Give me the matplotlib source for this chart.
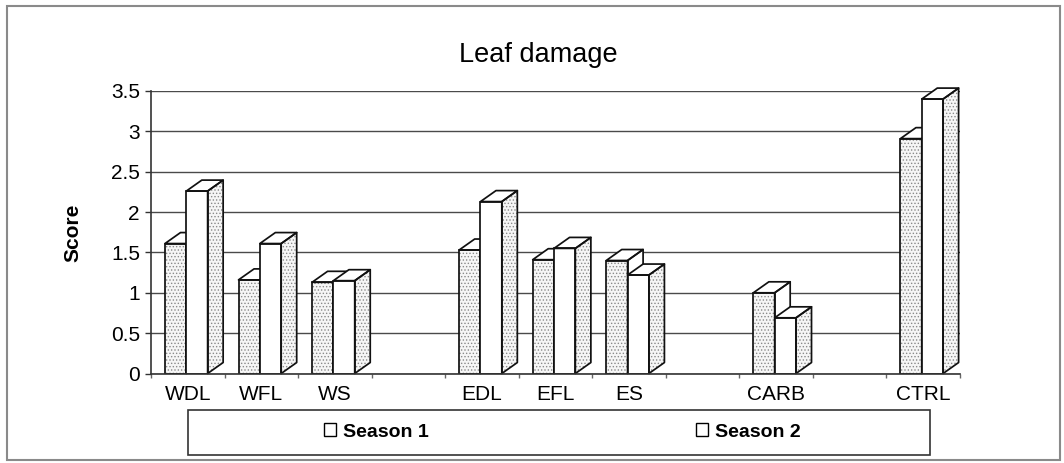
import matplotlib
matplotlib.use('Agg')
import matplotlib.pyplot as plt
from matplotlib.patches import Polygon, Patch, Rectangle

plt.rcParams['font.family'] = ['Liberation Sans', 'DejaVu Sans']
plt.rcParams['hatch.linewidth'] = 0.6

# ---- data ----
categories = ['WDL', 'WFL', 'WS', 'EDL', 'EFL', 'ES', 'CARB', 'CTRL']
slots = [0, 1, 2, 4, 5, 6, 8, 10]          # category slot index (blank slots between groups)
n_slots = 11
season1 = [1.61, 1.16, 1.13, 1.53, 1.41, 1.40, 1.00, 2.91]
season2 = [2.26, 1.61, 1.15, 2.13, 1.55, 1.22, 0.69, 3.40]
series_names = ['Season 1', 'Season 2']
yticks = [0, 0.5, 1, 1.5, 2, 2.5, 3, 3.5]
ytick_labels = ['0', '0.5', '1', '1.5', '2', '2.5', '3', '3.5']
title = 'Leaf damage'
ylabel = 'Score'

# ---- style ----
W, H = 1064, 463
bar_w = 0.29
offsets = [0.19, 0.48]
dx, dy = 0.211, 0.136          # pseudo-3D depth (slot units, value units)
dot_fc, dot_hc = '#f6f6f6', '#8a8a8a'
edge = '#111111'
elw = 1.25

fig = plt.figure(figsize=(W / 100, H / 100), dpi=100)
ax = fig.add_axes([151 / W, 89.5 / H, 809 / W, 282.5 / H])
ax.set_xlim(0, n_slots)
ax.set_ylim(0, 3.5)


def face(points, hatched, z):
    if hatched:
        ax.add_patch(Polygon(points, closed=True, facecolor=dot_fc, edgecolor=dot_hc,
                             hatch='.....', lw=0, zorder=z, clip_on=False))
    else:
        ax.add_patch(Polygon(points, closed=True, facecolor='white', lw=0,
                             zorder=z, clip_on=False))
    ax.add_patch(Polygon(points, closed=True, fill=False, edgecolor=edge, lw=elw,
                         zorder=z + 0.01, clip_on=False, joinstyle='round'))


for si, vals in enumerate([season1, season2]):
    z = 3 + si
    xs = [s + offsets[si] for s in slots]
    front_hatched = (si == 0)
    side_hatched = (si == 1)
    if front_hatched:
        ax.bar(xs, vals, width=bar_w, align='edge', color=dot_fc, edgecolor=dot_hc,
               hatch='.....', lw=0, zorder=z)
    else:
        ax.bar(xs, vals, width=bar_w, align='edge', color='white', lw=0, zorder=z)
    ax.bar(xs, vals, width=bar_w, align='edge', fill=False, edgecolor=edge, lw=elw,
           zorder=z + 0.01)
    for x0, v in zip(xs, vals):
        x1 = x0 + bar_w
        side = [(x1, 0), (x1 + dx, dy), (x1 + dx, v + dy), (x1, v)]
        top = [(x0, v), (x0 + dx, v + dy), (x1 + dx, v + dy), (x1, v)]
        face(side, side_hatched, z)
        face(top, False, z)

# ---- axes styling ----
for sp in ['top', 'right']:
    ax.spines[sp].set_visible(False)
for sp in ['left', 'bottom']:
    ax.spines[sp].set_color('#333333')
    ax.spines[sp].set_linewidth(1.2)
    ax.spines[sp].set_zorder(5)

ax.set_yticks(yticks)
ax.set_yticklabels(ytick_labels)
ax.yaxis.grid(True, color='#4a4a4a', lw=1.0)
ax.set_axisbelow(True)
ax.tick_params(axis='y', labelsize=15, length=4, width=1, color='#333333', pad=4)

ax.set_xticks(range(n_slots + 1))
ax.set_xticklabels([])
ax.set_xticks([s + 0.5 for s in slots], minor=True)
ax.set_xticklabels(categories, minor=True)
ax.tick_params(axis='x', which='major', length=3, width=1, color='#666666')
ax.tick_params(axis='x', which='minor', length=0, labelsize=15, pad=8)

ax.set_ylabel(ylabel, fontsize=15, fontweight='bold', va='center')
ax.yaxis.set_label_coords((72.5 - 151) / 809, (374 - 233) / 282.5)

fig.text(538 / W, (H - 55) / H, title, fontsize=19.5, ha='center', va='center')

# ---- legend ----
leg_y = (H - 432) / H
for name, cx in zip(series_names, [376, 748]):
    h = Patch(facecolor='white', edgecolor='black', lw=1.0)
    lg = fig.legend([h], [name], loc='center', bbox_to_anchor=(cx / W, leg_y),
                    frameon=False, prop={'size': 14, 'weight': 'bold'},
                    handlelength=0.62, handleheight=0.62, handletextpad=0.35,
                    borderpad=0, borderaxespad=0)
fig.patches.append(Rectangle((188 / W, (H - 455) / H), 742 / W, 45 / H,
                             transform=fig.transFigure, fill=False,
                             edgecolor='#333333', lw=1.2))

# outer border
fig.patches.append(Rectangle((7 / W, (H - 460) / H), 1053 / W, 454 / H,
                             transform=fig.transFigure, fill=False,
                             edgecolor='#8a8a8a', lw=1.5))

fig.savefig('out.png', dpi=100)
